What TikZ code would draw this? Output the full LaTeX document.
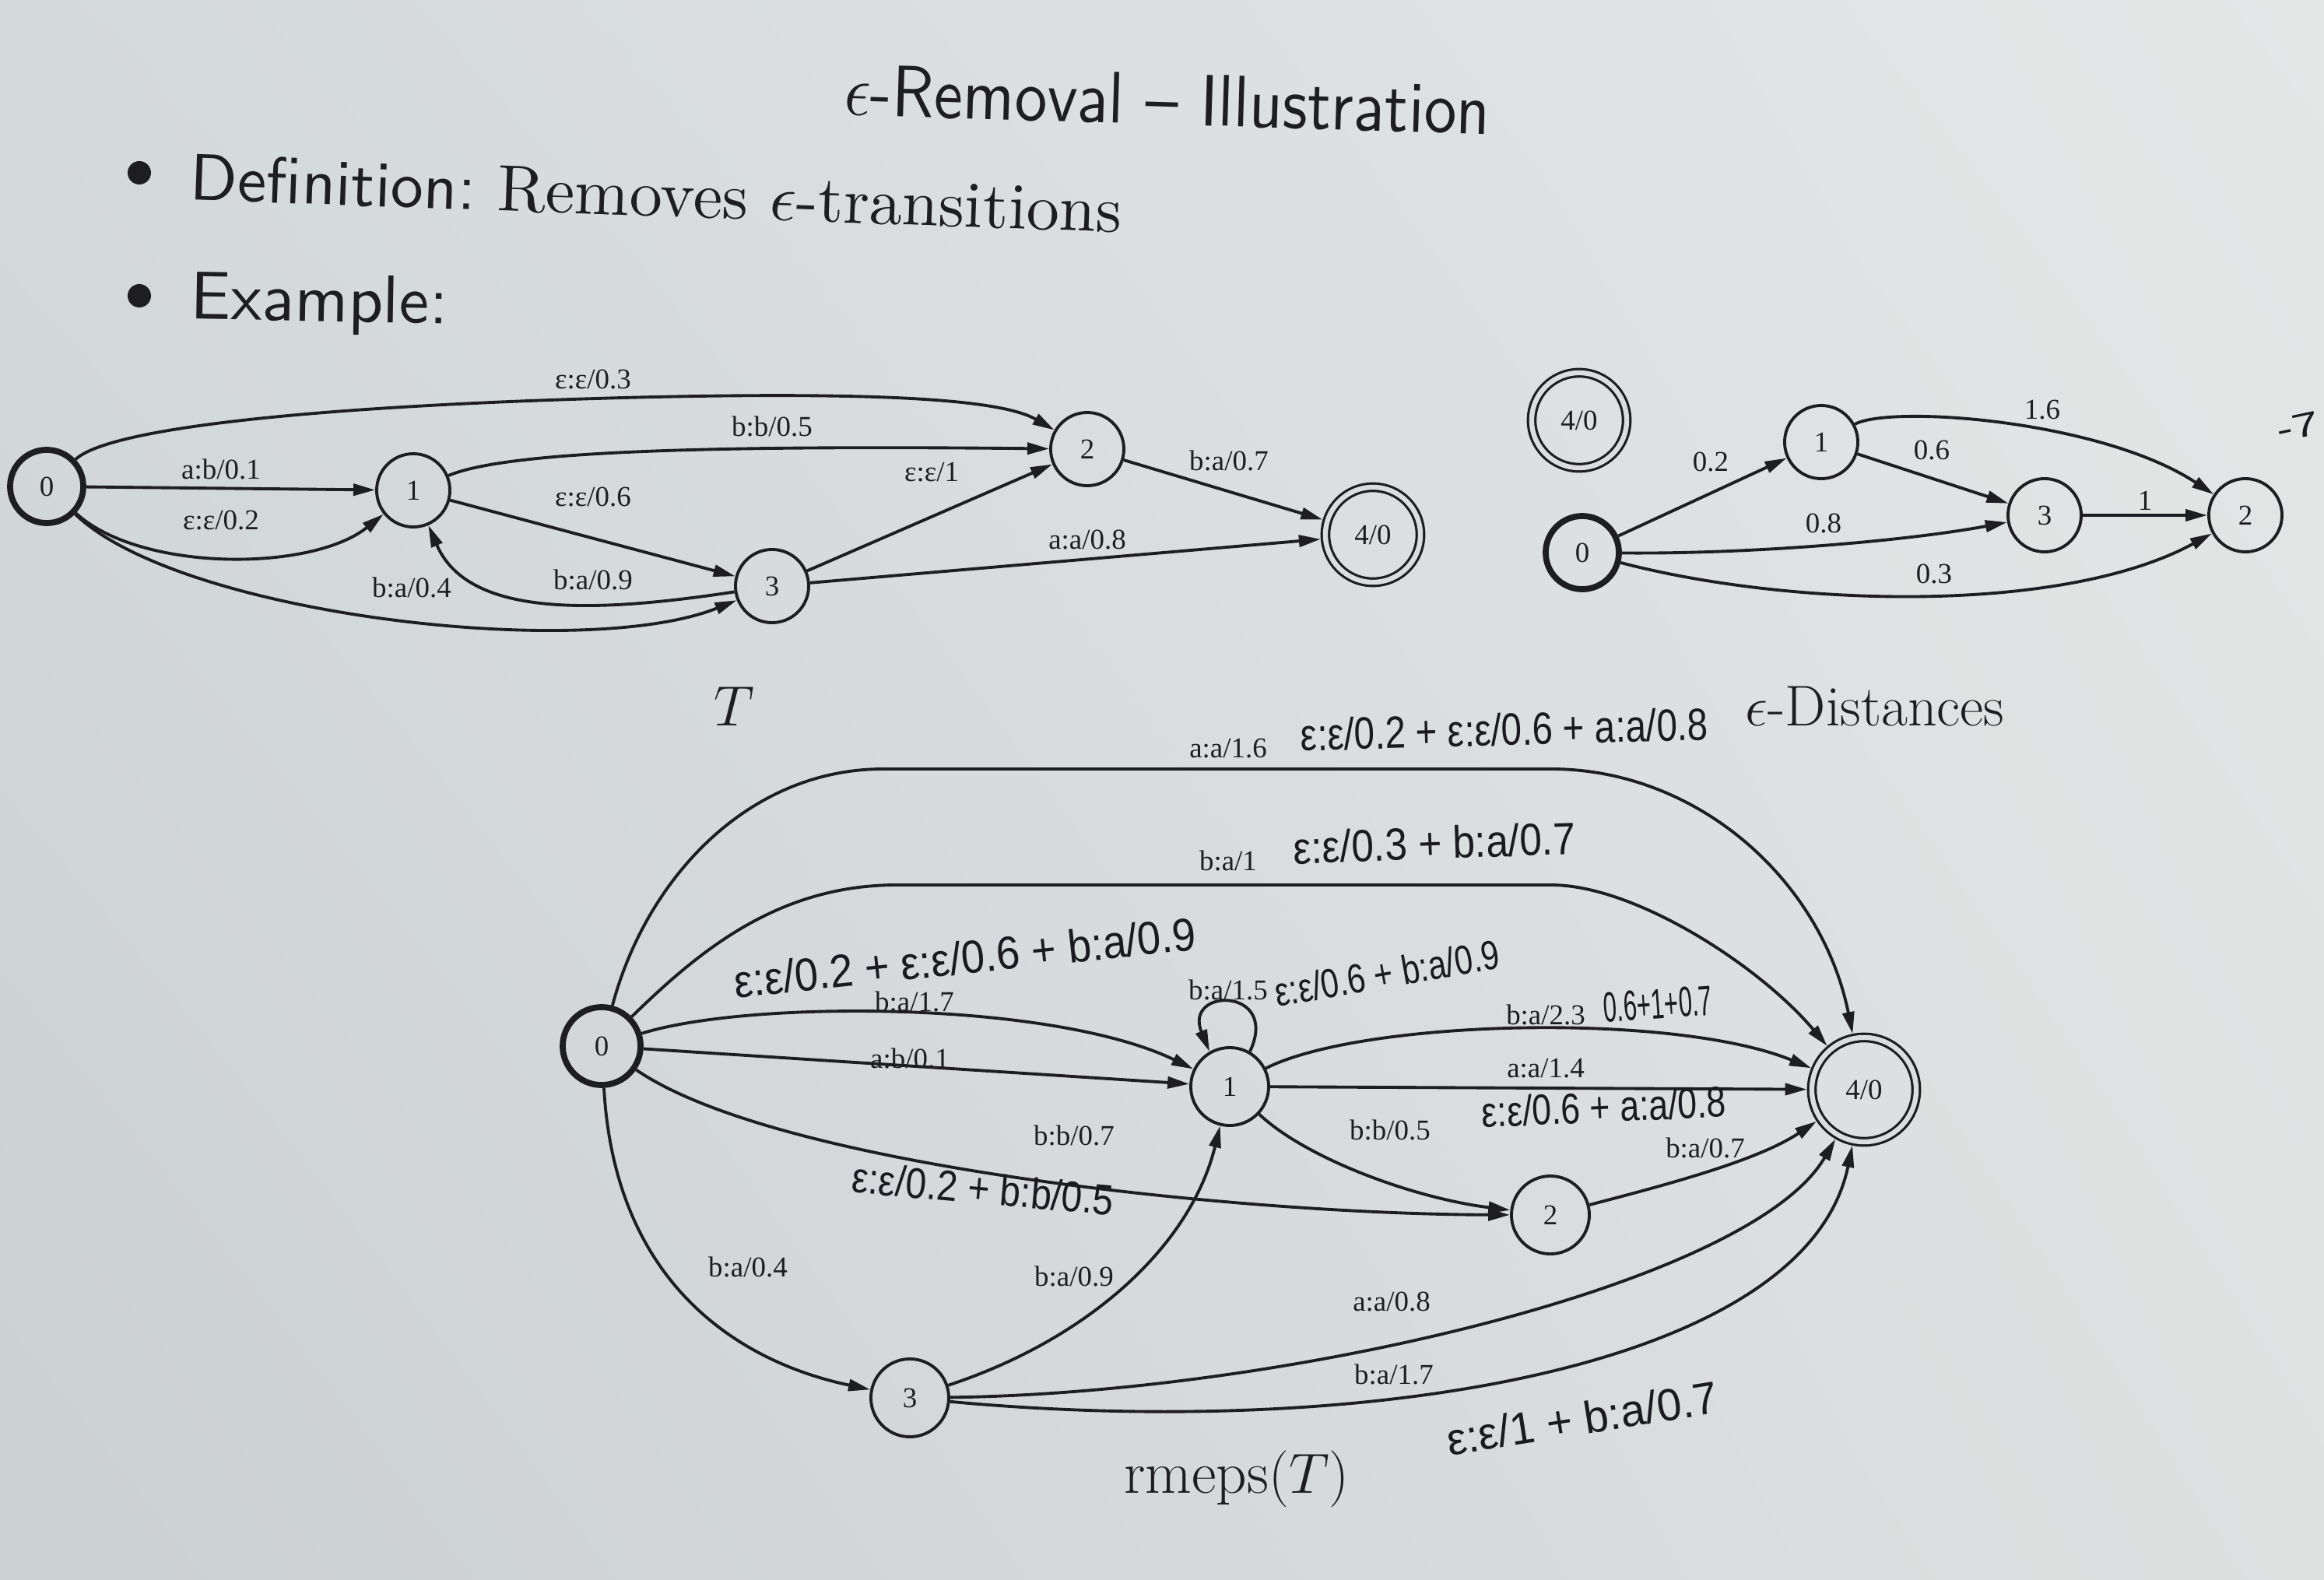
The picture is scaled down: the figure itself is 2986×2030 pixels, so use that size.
\documentclass[tikz,border=0pt]{standalone}
\usepackage{fontspec}
\usetikzlibrary{arrows.meta,shadings}
\newfontfamily\gvfont{Liberation Serif}
\newfontfamily\hwfont{Liberation Sans}
\definecolor{paper}{RGB}{218,222,224}
\definecolor{paperUL}{RGB}{212,217,219}
\definecolor{paperUR}{RGB}{229,231,231}
\definecolor{paperLL}{RGB}{203,208,210}
\definecolor{paperLR}{RGB}{223,225,225}
\definecolor{ink}{RGB}{30,30,34}
\definecolor{pen}{RGB}{26,26,32}
\begin{document}
\begin{tikzpicture}[x=0.01cm,y=-0.01cm,
  st/.style={circle,draw=ink,line width=1.1pt,minimum size=0.94cm,inner sep=0pt,
    font=\gvfont\fontsize{10.5}{12}\selectfont,text=ink},
  stb/.style={st,minimum size=1.0cm},
  ini/.style={st,line width=2.2pt},
  inib/.style={ini,minimum size=1.0cm},
  fin/.style={st,double=paper,double distance=1.8pt,line width=0.9pt,outer sep=1.8pt,minimum size=1.22cm},
  finb/.style={fin,minimum size=1.34cm},
  edg/.style={draw=ink,line width=1.1pt,-{Triangle[length=0.28cm,width=0.15cm]}},
  lbl/.style={font=\gvfont\fontsize{10.5}{12}\selectfont,text=ink,inner sep=0pt},
  captxt/.style={text=ink,inner sep=0pt},
  hw/.style={font=\hwfont,text=pen,inner sep=0pt},
  bul/.style={circle,fill=ink,minimum size=0.3cm,inner sep=0pt}]
\shade[upper left=paperUL,upper right=paperUR,lower left=paperLL,lower right=paperLR] (0,0) rectangle (2986,2030);
\useasboundingbox (0,0) rectangle (2986,2030);

% ---------- heading ----------
\node[captxt,rotate=-1.7] (title) at (1500,128) {\resizebox{8.3cm}{!}{\scalebox{1}[1.12]{\sffamily $\epsilon$-Removal -- Illustration}}};
\node[bul] (bul1) at (179,222) {};
\node[captxt,anchor=west,rotate=-2] (def) at (244,228) {\resizebox{11.97cm}{!}{\sffamily Definition:\ \rmfamily Removes $\epsilon$-transitions}};
\node[bul] (bul2) at (179,380) {};
\node[captxt,anchor=west,rotate=-1] (ex) at (244,388) {\resizebox{3.31cm}{!}{\sffamily Example:}};

% ---------- T ----------
\node[ini] (t0) at (60,625) {0};
\node[st] (t1) at (531,630) {1};
\node[st] (t2) at (1397,577) {2};
\node[st] (t3) at (992,753) {3};
\node[fin] (t4) at (1764,687) {4/0};

\draw[edg] (t0) .. controls (140,550) and (400,522) .. (800,511) .. controls (1150,502) and (1290,515) .. (t2);
\draw[edg] (t0) -- (t1);
\draw[edg] (t0) .. controls (180,735) and (400,735) .. (t1);
\draw[edg] (t0) .. controls (230,790) and (750,850) .. (t3);
\draw[edg] (t1) .. controls (650,580) and (900,572) .. (t2);
\draw[edg] (t1) -- (t3);
\draw[edg] (t3) .. controls (750,790) and (600,790) .. (t1);
\draw[edg] (t3) -- (t2);
\draw[edg] (t2) -- (t4);
\draw[edg] (t3) -- (t4);

\node[lbl] (lt1) at (762,487) {ε:ε/0.3};
\node[lbl] (lt2) at (992,548) {b:b/0.5};
\node[lbl] (lt3) at (284,603) {a:b/0.1};
\node[lbl] (lt4) at (284,668) {ε:ε/0.2};
\node[lbl] (lt5) at (762,638) {ε:ε/0.6};
\node[lbl] (lt6) at (529,755) {b:a/0.4};
\node[lbl] (lt7) at (762,745) {b:a/0.9};
\node[lbl] (lt8) at (1197,607) {ε:ε/1};
\node[lbl] (lt9) at (1579,592) {b:a/0.7};
\node[lbl] (lt10) at (1397,693) {a:a/0.8};
\node[captxt,font=\fontsize{20}{24}\selectfont] (capT) at (943,908) {$T$};

% ---------- epsilon distances ----------
\node[fin] (d4) at (2029,540) {4/0};
\node[st] (d1) at (2340,568) {1};
\node[ini] (d0) at (2033,710) {0};
\node[st] (d3) at (2627,662) {3};
\node[st] (d2) at (2885,662) {2};

\draw[edg] (d0) -- (d1);
\draw[edg] (d1) .. controls (2430,520) and (2700,540) .. (d2);
\draw[edg] (d1) -- (d3);
\draw[edg] (d0) .. controls (2250,712) and (2450,695) .. (d3);
\draw[edg] (d3) -- (d2);
\draw[edg] (d0) .. controls (2300,780) and (2650,790) .. (d2);

\node[lbl] (ld1) at (2198,593) {0.2};
\node[lbl] (ld2) at (2624,527) {1.6};
\node[lbl] (ld3) at (2482,578) {0.6};
\node[lbl] (ld4) at (2343,672) {0.8};
\node[lbl] (ld5) at (2756,643) {1};
\node[lbl] (ld6) at (2485,737) {0.3};
\node[captxt,font=\fontsize{21}{25}\selectfont] (capD) at (2409,908) {$\epsilon$-Distances};
\node[hw,rotate=12] (hw9) at (2952,548) {\resizebox{0.55cm}{0.3cm}{-7}};

% ---------- rmeps(T) ----------
\node[inib] (b0) at (773,1344) {0};
\node[stb] (b1) at (1580,1396) {1};
\node[stb] (b2) at (1992,1561) {2};
\node[stb] (b3) at (1169,1796) {3};
\node[finb] (b4) at (2395,1400) {4/0};

\draw[edg] (b0) .. controls (830,1130) and (960,988) .. (1135,988) -- (1993,988) .. controls (2180,988) and (2340,1130) .. (b4);
\draw[edg] (b0) .. controls (900,1220) and (1000,1138) .. (1150,1137) -- (1993,1137) .. controls (2100,1137) and (2260,1240) .. (b4);
\draw[edg] (b0) .. controls (960,1285) and (1350,1285) .. (b1);
\draw[edg] (b0) -- (b1);
\draw[edg] (b0) .. controls (1000,1500) and (1600,1560) .. (b2);
\draw[edg] (b0) .. controls (790,1650) and (950,1750) .. (b3);
\draw[edg] (b3) .. controls (1400,1720) and (1530,1600) .. (b1);
\draw[edg] (b1.60) .. controls (1645,1268) and (1520,1268) .. (b1.120);
\draw[edg] (b1) .. controls (1750,1310) and (2150,1300) .. (b4);
\draw[edg] (b1) -- (b4);
\draw[edg] (b1) .. controls (1680,1490) and (1820,1540) .. (b2);
\draw[edg] (b2) .. controls (2150,1520) and (2260,1490) .. (b4);
\draw[edg] (b3) .. controls (1650,1790) and (2250,1650) .. (b4);
\draw[edg] (b3) .. controls (1750,1850) and (2320,1760) .. (b4);

\node[lbl] (lb1) at (1578,962) {a:a/1.6};
\node[lbl] (lb2) at (1578,1106) {b:a/1};
\node[lbl] (lb3) at (1175,1287) {b:a/1.7};
\node[lbl] (lb4) at (1169,1360) {a:b/0.1};
\node[lbl] (lb5) at (1578,1272) {b:a/1.5};
\node[lbl] (lb6) at (1986,1304) {b:a/2.3};
\node[lbl] (lb7) at (1986,1373) {a:a/1.4};
\node[lbl] (lb8) at (1786,1452) {b:b/0.5};
\node[lbl] (lb9) at (1380,1459) {b:b/0.7};
\node[lbl] (lb10) at (2191,1475) {b:a/0.7};
\node[lbl] (lb11) at (961,1628) {b:a/0.4};
\node[lbl] (lb12) at (1380,1640) {b:a/0.9};
\node[lbl] (lb13) at (1788,1672) {a:a/0.8};
\node[lbl] (lb14) at (1791,1766) {b:a/1.7};
\node[captxt,font=\fontsize{22}{26}\selectfont] (capR) at (1589,1900) {rmeps$(T)$};

% handwritten notes
\node[hw,rotate=1.5] (hw1) at (1933,937) {\resizebox{5.23cm}{0.42cm}{ε:ε/0.2 + ε:ε/0.6 + a:a/0.8}};
\node[hw,rotate=2] (hw2) at (1843,1083) {\resizebox{3.62cm}{0.42cm}{ε:ε/0.3 + b:a/0.7}};
\node[hw,rotate=6] (hw3) at (1240,1230) {\resizebox{5.96cm}{0.43cm}{ε:ε/0.2 + ε:ε/0.6 + b:a/0.9}};
\node[hw,rotate=10] (hw4) at (1782,1250) {\resizebox{2.92cm}{0.38cm}{ε:ε/0.6 + b:a/0.9}};
\node[hw,rotate=4] (hw5) at (2130,1290) {\resizebox{1.40cm}{0.38cm}{0.6+1+0.7}};
\node[hw,rotate=2.5] (hw6) at (2061,1422) {\resizebox{3.14cm}{0.40cm}{ε:ε/0.6 + a:a/0.8}};
\node[hw,rotate=-5] (hw7) at (1263,1527) {\resizebox{3.37cm}{0.40cm}{ε:ε/0.2 + b:b/0.5}};
\node[hw,rotate=9] (hw8) at (2033,1822) {\resizebox{3.52cm}{0.42cm}{ε:ε/1 + b:a/0.7}};
\end{tikzpicture}
\end{document}
